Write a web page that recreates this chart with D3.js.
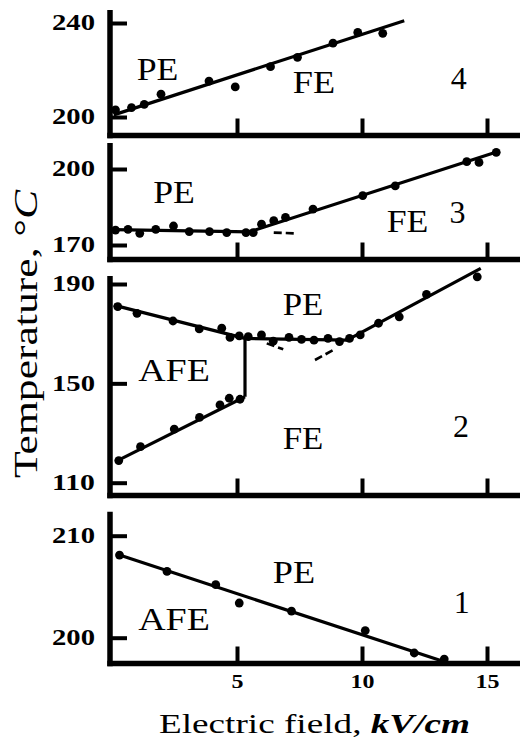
<!DOCTYPE html>
<html><head><meta charset="utf-8">
<script src="https://cdn.jsdelivr.net/npm/d3@7"></script>
<style>body{margin:0;background:#fff}svg{display:block}</style>
</head><body>
<svg id="c" width="520" height="748"></svg>
<script>
// ---------- data ----------
const fieldTicks = [5, 10, 15];

// panel 4 (top)
const p4Ticks = [200, 240];
const p4E = [0.14, 0.78, 1.29, 1.96, 3.88, 4.93, 6.34, 7.42, 8.84, 9.83, 10.83];
const p4T = [203.0, 204.0, 205.4, 209.7, 215.3, 212.8, 221.4, 225.4, 231.4, 236.0, 235.6];
const p4LineE = [0.07, 11.69];
const p4LineT = [200.9, 241.0];
const p4Labels = ["PE", "FE", "4"];

// panel 3
const p3Ticks = [170, 200];
const p3E = [0.14, 0.64, 1.11, 1.75, 2.46, 3.09, 3.90, 4.59, 5.36, 5.65, 5.98, 6.47, 6.94, 8.04, 10.03, 11.33, 14.19, 14.68, 15.37];
const p3T = [175.9, 176.2, 174.6, 176.2, 177.5, 175.3, 175.3, 174.9, 174.9, 174.9, 178.2, 179.6, 180.9, 184.2, 189.5, 193.3, 202.9, 202.6, 206.6];
const p3LineE = [0.05, 5.5, 15.35];
const p3LineT = [176.1, 175.2, 206.6];
const p3DashE = [6.47, 7.27];
const p3DashT = [174.9, 174.6];
const p3Labels = ["PE", "FE", "3"];

// panel 2
const p2Ticks = [110, 150, 190];
const p2UpperE = [0.23, 1.0, 2.44, 3.49, 4.39, 4.72, 5.09, 5.45, 5.98, 6.45, 7.08, 7.58, 8.08, 8.64, 9.10, 9.50, 9.93, 10.66, 11.49, 12.58, 14.61];
const p2UpperT = [180.9, 178.2, 175.1, 171.9, 172.2, 168.5, 169.1, 168.8, 169.5, 167.0, 168.5, 167.7, 167.4, 168.1, 166.8, 168.1, 169.5, 174.2, 176.8, 185.8, 192.9];
const p2LowerE = [0.27, 1.14, 2.49, 3.50, 4.32, 4.69, 5.12];
const p2LowerT = [118.9, 124.5, 131.6, 136.3, 141.3, 144.0, 143.6];
const p2BoundaryE = [0.07, 5.32, 9.40, 14.75];
const p2BoundaryT = [181.5, 168.1, 167.4, 196.3];
const p2VerticalE = [5.32, 5.32];
const p2VerticalT = [144.6, 168.1];
const p2LowerLineE = [0.14, 5.32];
const p2LowerLineT = [118.5, 144.6];
const p2Dash1E = [6.19, 6.85];
const p2Dash1T = [166.1, 163.7];
const p2Dash2E = [8.12, 8.85];
const p2Dash2T = [159.4, 163.4];
const p2Labels = ["PE", "AFE", "FE", "2"];

// panel 1 (bottom)
const p1Ticks = [200, 210];
const p1E = [0.30, 2.20, 4.15, 5.09, 7.18, 10.13, 12.09, 13.29];
const p1T = [208.1, 206.5, 205.2, 203.4, 202.6, 200.7, 198.5, 197.9];
const p1LineE = [0.30, 13.36];
const p1LineT = [208.1, 197.6];
const p1Labels = ["PE", "AFE", "1"];

const xTitle = "Electric field, ";
const xUnit = "kV/cm";
const yTitle = "Temperature, °";
const yUnit = "C";

// ---------- font pick (first installed Times-like face) ----------
function pickFont(cands) {
  const ctx = document.createElement("canvas").getContext("2d");
  const s = "Temperature Electric 0123456789 AFEPE";
  for (const f of cands) {
    ctx.font = `40px '${f}', monospace`; const a = ctx.measureText(s).width;
    ctx.font = `40px '${f}', sans-serif`; const b = ctx.measureText(s).width;
    if (Math.abs(a - b) < 0.01) return `'${f}'`;
  }
  return "serif";
}
const serif = pickFont(["Liberation Serif", "Times New Roman", "Times", "Tinos", "Nimbus Roman", "Noto Serif", "DejaVu Serif"]) + ", serif";

// ---------- drawing ----------
const svg = d3.select("#c");
const x = d3.scaleLinear().domain([0, 16.32]).range([112, 520]);

function stretched(parent, px, py, parts, size, width, anchor, rot) {
  const t = parent.append("text")
    .attr("font-family", serif).attr("font-size", size)
    .attr("text-anchor", anchor || "middle").attr("fill", "#000");
  parts.forEach(p => t.append("tspan").text(p.t)
    .attr("font-style", p.i ? "italic" : null)
    .attr("font-weight", p.b ? "bold" : null));
  const w = t.node().getComputedTextLength();
  const s = width ? width / w : 1;
  t.attr("transform", `translate(${px},${py}) rotate(${rot || 0}) scale(${s},1)`);
  return t;
}

const panels = [
  { ticks: p4Ticks, top: 10, bottom: 135.5, ypx: [117, 23],
    dots: [[p4E, p4T]], lines: [[p4LineE, p4LineT]], dashes: [],
    labels: p4Labels, lpos: [[157.5, 80, 41.7], [314, 93, 42.3], [458.7, 89.3, 0]] },
  { ticks: p3Ticks, top: 143, bottom: 259.5, ypx: [245, 169],
    dots: [[p3E, p3T]], lines: [[p3LineE, p3LineT]], dashes: [[p3DashE, p3DashT]],
    labels: p3Labels, lpos: [[174, 202.7, 41.7], [407.5, 231.7, 41.7], [457.5, 223.3, 0]] },
  { ticks: p2Ticks, top: 276, bottom: 495.5, ypx: [482.7, 284],
    dots: [[p2UpperE, p2UpperT], [p2LowerE, p2LowerT]],
    lines: [[p2BoundaryE, p2BoundaryT], [p2VerticalE, p2VerticalT], [p2LowerLineE, p2LowerLineT]],
    dashes: [[p2Dash1E, p2Dash1T], [p2Dash2E, p2Dash2T]],
    labels: p2Labels, lpos: [[303, 315, 40.7], [174, 380.7, 71.7], [303, 449.3, 40.7], [461, 436.7, 0]] },
  { ticks: p1Ticks, top: 511.7, bottom: 663.5, ypx: [637.7, 535.7], last: true,
    dots: [[p1E, p1T]], lines: [[p1LineE, p1LineT]], dashes: [],
    labels: p1Labels, lpos: [[294, 582.7, 42.3], [174, 630, 71.7], [461.7, 613.3, 0]] }
];

panels.forEach(p => {
  const y = d3.scaleLinear().domain(d3.extent(p.ticks)).range(p.ypx);
  const g = svg.append("g");

  // frame
  g.append("line").attr("x1", 110).attr("x2", 110).attr("y1", p.top).attr("y2", p.bottom + 2.7)
    .attr("stroke", "#000").attr("stroke-width", 5.5);
  g.append("line").attr("x1", 107.3).attr("x2", 520).attr("y1", p.bottom).attr("y2", p.bottom)
    .attr("stroke", "#000").attr("stroke-width", 5.5);

  // y axis
  const ya = g.append("g").attr("transform", "translate(110,0)")
    .call(d3.axisLeft(y).tickValues(p.ticks).tickSizeInner(-17).tickSizeOuter(0)
      .tickPadding(15).tickFormat(d3.format("d")));
  ya.select(".domain").remove();
  ya.selectAll(".tick line").attr("stroke", "#000").attr("stroke-width", 4);
  ya.selectAll(".tick text")
    .attr("fill", "#000").attr("font-family", serif).attr("font-size", 24).attr("font-weight", "bold")
    .attr("x", 0).attr("dy", "0.34em")
    .each(function () {
      const w = this.getComputedTextLength();
      d3.select(this).attr("transform", `translate(-15,-1.5) scale(${43 / w},1)`);
    });

  // x axis
  const xa = g.append("g").attr("transform", `translate(0,${p.bottom})`)
    .call(d3.axisBottom(x).tickValues(fieldTicks).tickSizeInner(-17).tickSizeOuter(0)
      .tickPadding(11).tickFormat(p.last ? d3.format("d") : () => ""));
  xa.select(".domain").remove();
  xa.selectAll(".tick line").attr("stroke", "#000").attr("stroke-width", 4);
  xa.selectAll(".tick text")
    .attr("fill", "#000").attr("font-family", serif).attr("font-size", 19).attr("font-weight", "bold")
    .each(function (d) {
      const w = this.getComputedTextLength();
      const target = String(d).length * 12;
      d3.select(this).attr("transform", `scale(${target / w},1)`);
    });

  const line = d3.line().x(d => x(d[0])).y(d => y(d[1]));

  p.lines.forEach(([E, T]) => {
    g.append("path").attr("d", line(d3.zip(E, T))).attr("fill", "none")
      .attr("stroke", "#000").attr("stroke-width", 3.2).attr("stroke-linejoin", "round");
  });
  p.dashes.forEach(([E, T]) => {
    g.append("path").attr("d", line(d3.zip(E, T))).attr("fill", "none")
      .attr("stroke", "#000").attr("stroke-width", 2.6).attr("stroke-dasharray", "8,4");
  });
  p.dots.forEach(([E, T]) => {
    g.selectAll(null).data(d3.zip(E, T)).enter().append("circle")
      .attr("cx", d => x(d[0])).attr("cy", d => y(d[1])).attr("r", 4.4).attr("fill", "#000");
  });

  p.labels.forEach((txt, i) => {
    const [lx, ly, lw] = p.lpos[i];
    stretched(g, lx, ly, [{ t: txt }], 32, lw || null, "middle", 0);
  });
});

// axis titles
stretched(svg, 314.5, 733, [{ t: xTitle }, { t: xUnit, i: true, b: true }], 27, 311, "middle", 0);
stretched(svg, 36.5, 334, [{ t: yTitle }, { t: yUnit, i: true }], 33, 288, "middle", -90);
</script>
</body></html>
